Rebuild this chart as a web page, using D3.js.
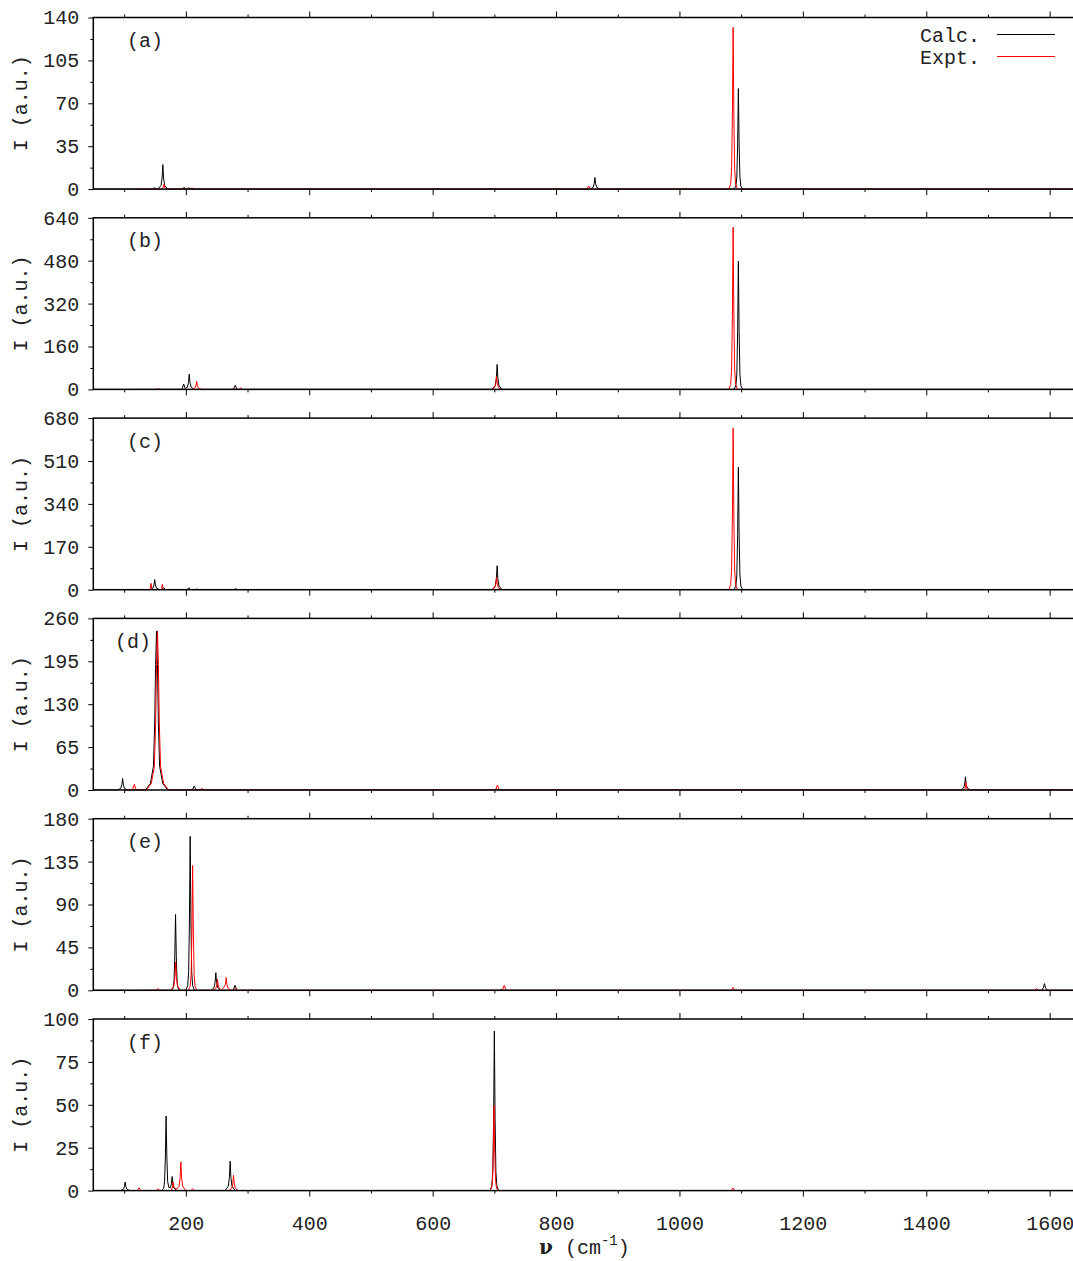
<!DOCTYPE html>
<html>
<head>
<meta charset="utf-8">
<script src="https://cdn.jsdelivr.net/npm/d3@7"></script>
<style>
  html, body { margin: 0; padding: 0; background: #fff; }
  svg { display: block; }
  text { font-family: "Liberation Mono", "DejaVu Sans Mono", monospace; font-size: 20px; fill: #222; }
</style>
</head>
<body>
<svg id="chart" width="1073" height="1261"></svg>
<script>
// Wavenumber range and tick marks (cm^-1)
const xDomain = [50, 1650];
const xMajorTicks = [200, 400, 600, 800, 1000, 1200, 1400, 1600];
const xMinorTicks = [100, 300, 500, 700, 900, 1100, 1300, 1500];

// Panel labels and intensity axes
const panelLabels = ["(a)", "(b)", "(c)", "(d)", "(e)", "(f)"];
const yMax = [140, 640, 680, 260, 180, 100];
const yStep = [35, 160, 170, 65, 45, 25];

// Spectra as [wavenumber, intensity] points
const calcA = [[50,0],
  [146,0],[149,1.2],[152,0],
  [154.7,0],[159.7,3],[161.5,9],[162.7,20],[163.9,9],[165.7,3],[170.7,0],
  [194,0],[197,1.5],[200,0],
  [202,0],[205,1],[208,0],
  [855,0],[860,1.4],[861.8,4.3],[863,9.5],[864.2,4.3],[866,1.4],[871,0],
  [1088.5,0],[1091.5,2.5],[1093,9.8],[1094.3,36.9],[1095.5,82],[1096.7,36.9],[1098,9.8],[1099.5,2.5],[1102.5,0],
  [1650,0]];
const exptA = [[122,0],
  [161.5,0],[163.3,1.5],[164.5,4],[165.7,1.5],[167.5,0],
  [207,0],[210,1],[213,0],
  [850,0],[853,2.5],[856,0],
  [1080,0],[1083,4],[1084.5,15.8],[1085.8,59.4],[1087,132],[1088.2,59.4],[1089.5,15.8],[1091,4],[1094,0],
  [1650,0]];

const calcB = [[50,0],
  [193.5,0],[196.5,20],[199,3],[202.5,8.6],[204.3,25.7],[205.5,57],[206.7,25.7],[208.5,8.6],[213.5,0],
  [277,0],[280,15],[283,0],
  [696.5,0],[701.5,14],[703.3,41.9],[704.5,93],[705.7,41.9],[707.5,14],[712.5,0],
  [1088.5,0],[1091.5,14.3],[1093,57.4],[1094.3,215],[1095.5,478],[1096.7,215],[1098,57.4],[1099.5,14.3],[1102.5,0],
  [1650,0]];
const exptB = [[112,0],
  [152,0],[155,3],[158,0],
  [209.5,0],[214.5,4.5],[216.3,13.5],[217.5,30],[218.7,13.5],[220.5,4.5],[225.5,0],
  [286,0],[289,6],[292,0],
  [695.5,0],[700.5,7.5],[702.3,22.5],[703.5,50],[704.7,22.5],[706.5,7.5],[711.5,0],
  [1080,0],[1083,18.2],[1084.5,72.6],[1085.8,272],[1087,605],[1088.2,272],[1089.5,72.6],[1091,18.2],[1094,0],
  [1650,0]];

const calcC = [[50,0],
  [141.5,0],[146.5,6],[148.3,18],[149.5,40],[150.7,18],[152.5,6],[157.5,0],
  [161,0],[164,8],[167,0],
  [202,0],[205,8],[208,0],
  [277.5,0],[280.5,4],[283.5,0],
  [696.5,0],[701.5,14.3],[703.3,42.8],[704.5,95],[705.7,42.8],[707.5,14.3],[712.5,0],
  [1088.5,0],[1091.5,14.6],[1093,58.3],[1094.3,218.7],[1095.5,486],[1096.7,218.7],[1098,58.3],[1099.5,14.6],[1102.5,0],
  [1650,0]];
const exptC = [[105,0],
  [140.5,0],[142.3,5],[143.5,25],[144.7,5],[146.5,0],
  [159,0],[160.8,4],[162,21],[163.2,4],[165,0],
  [215,0],[218,3],[221,0],
  [695.5,0],[700.5,7.5],[702.3,22.5],[703.5,50],[704.7,22.5],[706.5,7.5],[711.5,0],
  [1080,0],[1083,19.2],[1084.5,76.8],[1085.8,288],[1087,640],[1088.2,288],[1089.5,76.8],[1091,19.2],[1094,0],
  [1650,0]];

const calcD = [[50,0],
  [89.5,0],[94.5,2.6],[96.3,7.9],[97.5,17.5],[98.7,7.9],[100.5,2.6],[105.5,0],
  [134.5,0],[142.5,10],[147.5,36],[149.5,100],[151,190],[152.5,241],[154,190],[155.5,100],[157.5,36],[162.5,10],[170.5,0],
  [210.5,0],[213.5,6],[216.5,0],
  [701,0],[704,1.5],[707,0],
  [1455.5,0],[1460.5,3],[1462.3,9],[1463.5,20],[1464.7,9],[1466.5,3],[1471.5,0],
  [1650,0]];
const exptD = [[100,0],
  [113.5,0],[116.5,8.5],[119.5,0],
  [136,0],[144,10],[149,36],[151,100],[152.5,190],[154,241],[155.5,190],[157,100],[159,36],[164,10],[172,0],
  [223,0],[226,2.5],[229,0],
  [702,0],[705,7.6],[708,0],
  [1461.5,0],[1463.3,3],[1464.5,11],[1465.7,3],[1467.5,0],
  [1650,0]];

const calcE = [[50,0],
  [176.3,0],[179.3,2.4],[180.8,9.5],[182.1,35.8],[183.3,79.5],[184.5,35.8],[185.8,9.5],[187.3,2.4],[190.3,0],
  [200,0],[203,4.8],[204.5,19.4],[205.8,72.7],[207,161.5],[208.2,72.7],[209.5,19.4],[211,4.8],[214,0],
  [240.6,0],[245.6,2.8],[247.4,8.3],[248.6,18.5],[249.8,8.3],[251.6,2.8],[256.6,0],
  [276.7,0],[279.7,5.2],[282.7,0],
  [709,0],[712,1],[715,0],
  [1586.6,0],[1589.8,2.5],[1591.6,7],[1593.4,2.5],[1596.6,0],
  [1650,0]];
const exptE = [[130,0],
  [151.6,0],[154.6,2],[157.6,0],
  [175.5,0],[180.5,4.5],[182.3,13.4],[183.5,29.7],[184.7,13.4],[186.5,4.5],[191.5,0],
  [204,0],[207,3.9],[208.5,15.7],[209.8,59],[211,131],[212.2,59],[213.5,15.7],[215,3.9],[218,0],
  [243.3,0],[248.3,1.7],[250.1,5.2],[251.3,11.5],[252.5,5.2],[254.3,1.7],[258,0.8],
  [260.4,2],[264.2,6],[265.4,13.3],[266.6,6],[268.4,2],[273.4,0],
  [277,0],[280,2],[283,0],
  [713,0],[716,5.2],[719,0],
  [1084,0],[1087,3],[1090,0],
  [1575.6,0],[1578.6,2],[1581.6,0],
  [1650,0]];

const calcF = [[50,0],
  [93.6,0],[98.6,0.75],[100.4,2.25],[101.6,5],[102.8,2.25],[104.6,0.75],[109.6,0],
  [161,0],[164,1.3],[165.5,5.2],[166.8,19.6],[168,43.5],[169.2,19.6],[170.5,5.2],[172.5,1.8],
  [175,1.8],[176.6,4],[177.8,8.2],[179,4],[180.8,1.5],[185.8,0],
  [263.8,0],[268.8,2.6],[270.6,7.7],[271.8,17.1],[273,7.7],[274.8,2.6],[279.8,0],
  [693,0],[696,2.8],[697.5,11.2],[698.8,41.9],[700,93],[701.2,41.9],[702.5,11.2],[704,2.8],[707,0],
  [1650,0]];
const exptF = [[110,0],
  [121.3,0],[124.3,1.7],[127.3,0],
  [152,0],[155,1],[158,0],
  [176.4,0],[178.2,2],[179.4,5],[180.6,2],[184,1],
  [186,1.2],[188.9,2.5],[190.7,7.5],[191.9,16.7],[193.1,7.5],[194.9,2.5],[199.9,0],
  [208,0],[211,1],[214,0],
  [269.3,0],[274.3,1.3],[276.1,4],[277.3,8.9],[278.5,4],[280.3,1.3],[285.3,0],
  [692.5,0],[695.5,1.5],[697,5.9],[698.3,22.3],[699.5,49.5],[700.7,22.3],[702,5.9],[703.5,1.5],[706.5,0],
  [1084,0],[1087,1.5],[1090,0],
  [1650,0]];

const calcSeries = [calcA, calcB, calcC, calcD, calcE, calcF];
const exptSeries = [exptA, exptB, exptC, exptD, exptE, exptF];

// ---- layout ----
const plotLeft = 93.3, plotRight = 1080.5;
const panelTop0 = 17.5, panelStep = 200.3, panelHeight = 171.6;
const labelX = [127, 127, 127, 115, 127, 127];
const colors = { calc: "#000000", expt: "#ff0000" };

const svg = d3.select("#chart");
const x = d3.scaleLinear().domain(xDomain).range([plotLeft, plotRight]);

panelLabels.forEach((label, i) => {
  const top = panelTop0 + i * panelStep;
  const bottom = top + panelHeight;
  const y = d3.scaleLinear().domain([0, yMax[i]]).range([bottom, top]);
  const g = svg.append("g").attr("class", "panel");

  const clipId = "clip" + i;
  g.append("clipPath").attr("id", clipId)
    .append("rect").attr("x", plotLeft).attr("y", top - 1)
    .attr("width", plotRight - plotLeft).attr("height", panelHeight + 1.5);

  const line = d3.line().x(d => x(d[0])).y(d => y(d[1]));
  const plot = g.append("g").attr("clip-path", `url(#${clipId})`);
  plot.append("path").datum(calcSeries[i]).attr("d", line)
    .attr("fill", "none").attr("stroke", colors.calc).attr("stroke-width", 1).attr("stroke-linejoin", "round");
  plot.append("path").datum(exptSeries[i]).attr("d", line)
    .attr("fill", "none").attr("stroke", colors.expt).attr("stroke-width", 1).attr("stroke-linejoin", "round");

  // y axis: major with labels, minor halfway
  const yMajor = d3.range(0, yMax[i] + yStep[i] / 2, yStep[i]);
  const yMinor = d3.range(yStep[i] / 2, yMax[i], yStep[i]);
  const yAx = g.append("g").attr("transform", `translate(${plotLeft},0)`)
    .call(d3.axisLeft(y).tickValues(yMajor).tickSize(5).tickPadding(9).tickFormat(d3.format("d")));
  const yAxMinor = g.append("g").attr("transform", `translate(${plotLeft},0)`)
    .call(d3.axisLeft(y).tickValues(yMinor).tickSize(3).tickFormat(""));

  // x axes on top and bottom edges (outward ticks)
  const isLast = i === panelLabels.length - 1;
  const xb = g.append("g").attr("transform", `translate(0,${bottom})`)
    .call(d3.axisBottom(x).tickValues(xMajorTicks).tickSize(6).tickPadding(19)
      .tickFormat(isLast ? d3.format("d") : ""));
  const xbMinor = g.append("g").attr("transform", `translate(0,${bottom})`)
    .call(d3.axisBottom(x).tickValues(xMinorTicks).tickSize(3).tickFormat(""));
  const xt = g.append("g").attr("transform", `translate(0,${top})`)
    .call(d3.axisTop(x).tickValues(xMajorTicks).tickSize(6).tickFormat(""));
  const xtMinor = g.append("g").attr("transform", `translate(0,${top})`)
    .call(d3.axisTop(x).tickValues(xMinorTicks).tickSize(3).tickFormat(""));

  [yAx, yAxMinor, xb, xbMinor, xt, xtMinor].forEach(a => {
    a.select(".domain").remove();
    a.selectAll(".tick line").attr("stroke", "#000").attr("stroke-width", 1);
    a.selectAll(".tick text").attr("font-family", null).attr("font-size", null).attr("fill", "#222");
  });

  // frame
  g.append("rect").attr("x", plotLeft).attr("y", top)
    .attr("width", plotRight - plotLeft).attr("height", panelHeight)
    .attr("fill", "none").attr("stroke", "#000").attr("stroke-width", 1.5);

  // panel tag
  g.append("text").attr("x", labelX[i]).attr("y", top + 29.5).text(label);

  // y axis title
  g.append("text")
    .attr("transform", `translate(27,${(top + bottom) / 2}) rotate(-90)`)
    .attr("text-anchor", "middle")
    .text("I (a.u.)");
});

// legend (top panel)
const legend = svg.append("g");
[["Calc.", colors.calc, 41.5, 34.5], ["Expt.", colors.expt, 63.5, 56.5]].forEach(([name, c, ty, ly]) => {
  legend.append("text").attr("x", 920).attr("y", ty).text(name);
  legend.append("line").attr("x1", 997).attr("x2", 1055).attr("y1", ly).attr("y2", ly)
    .attr("stroke", c).attr("stroke-width", 1.2);
});

// x axis title
const xTitle = svg.append("text").attr("x", 539).attr("y", 1254);
xTitle.append("tspan").attr("font-family", "DejaVu Serif").attr("font-weight", "bold").text("ν");
xTitle.append("tspan").text(" (cm");
xTitle.append("tspan").attr("dy", -9).attr("font-size", 14).text("-1");
xTitle.append("tspan").attr("dy", 9).text(")");
</script>
</body>
</html>
